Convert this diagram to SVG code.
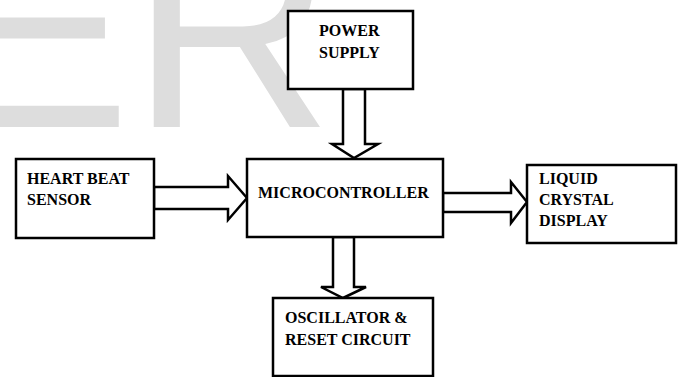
<svg xmlns="http://www.w3.org/2000/svg" width="683" height="377" viewBox="0 0 683 377">
<style>
.box{fill:#fff;stroke:#000;stroke-width:2.5}
.arr{fill:#fff;stroke:#000;stroke-width:2.5;stroke-linejoin:miter}
.lbl{font-family:"Liberation Serif","Times New Roman",serif;font-weight:bold;font-size:16px;fill:#000}
.wm{font-family:"Liberation Sans",Arial,sans-serif;font-size:280px;fill:#dddddd}
</style>
<rect width="683" height="377" fill="#fff"/>
<text class="wm" x="-56" y="127">ER</text>
<g id="connectors">
<polygon class="arr" points="343,89 343,144 332,144 354,158 378,144 365,144 365,89"/>
<polygon class="arr" points="154,187 228,187 228,176 247,198 228,220 228,209 154,209"/>
<polygon class="arr" points="443,193 511,193 511,182 527,202 511,223 511,212 443,212"/>
<polygon class="arr" points="333,237 333,287 321,287 343,298 366,287 354,287 354,237"/>
</g>
<g id="power">
<rect class="box" x="288" y="11" width="125" height="78"/>
<text class="lbl" x="319" y="36">POWER</text>
<text class="lbl" x="319" y="58">SUPPLY</text>
</g>
<g id="heart">
<rect class="box" x="16" y="159" width="138" height="79"/>
<text class="lbl" x="27" y="184">HEART BEAT</text>
<text class="lbl" x="27" y="205">SENSOR</text>
</g>
<g id="micro">
<rect class="box" x="247" y="159" width="196" height="78"/>
<text class="lbl" x="258" y="198">MICROCONTROLLER</text>
</g>
<g id="lcd">
<rect class="box" x="527" y="165" width="149" height="78"/>
<text class="lbl" x="539" y="184">LIQUID</text>
<text class="lbl" x="539" y="205">CRYSTAL</text>
<text class="lbl" x="539" y="226">DISPLAY</text>
</g>
<g id="osc">
<rect class="box" x="273" y="298" width="160" height="78"/>
<text class="lbl" x="285" y="323">OSCILLATOR &amp;</text>
<text class="lbl" x="285" y="345">RESET CIRCUIT</text>
</g>
</svg>
